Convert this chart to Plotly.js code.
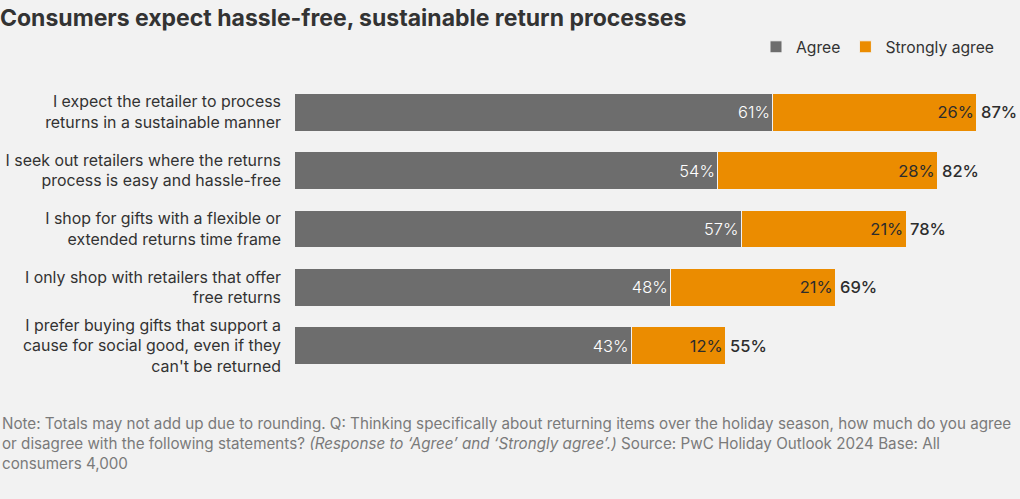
<!DOCTYPE html>
<html>
<head>
<meta charset="utf-8">
<script src="https://cdn.plot.ly/plotly-3.0.1.min.js"></script>
<style>html,body{margin:0;padding:0;background:#f2f2f2;}#chart{width:1020px;height:499px;}</style>
</head>
<body>
<div id="chart"></div>
<script>
const categories = [
  "I expect the retailer to process<br>returns in a sustainable manner",
  "I seek out retailers where the returns<br>process is easy and hassle-free",
  "I shop for gifts with a flexible or<br>extended returns time frame",
  "I only shop with retailers that offer<br>free returns",
  "I prefer buying gifts that support a<br>cause for social good, even if they<br>can't be returned"
];
const agree = [61, 54, 57, 48, 43];
const stronglyAgree = [26, 28, 21, 21, 12];
const totals = [87, 82, 78, 69, 55];

const font = "Inter, 'Liberation Sans', Arial, sans-serif";

const traces = [
  {
    type: 'bar', orientation: 'h', name: 'Agree',
    y: categories, x: agree,
    marker: {color: '#6d6d6d', line: {color: '#f2f2f2', width: 1}},
    text: agree.map(v => v + '%'), textposition: 'inside', insidetextanchor: 'end',
    textfont: {color: '#ffffff', size: 16.5, family: font, weight: 300},
    hoverinfo: 'none'
  },
  {
    type: 'bar', orientation: 'h', name: 'Strongly agree',
    y: categories, x: stronglyAgree,
    marker: {color: '#eb8c00', line: {color: '#f2f2f2', width: 1}},
    text: stronglyAgree.map(v => v + '%'), textposition: 'inside', insidetextanchor: 'end',
    textfont: {color: '#2d2d2d', size: 16.5, family: font, weight: 400},
    hoverinfo: 'none'
  }
];

const annotations = totals.map((t, i) => ({
  x: t, y: categories[i], xref: 'x', yref: 'y',
  text: t + '%', showarrow: false, xanchor: 'left', xshift: 2,
  font: {size: 16.5, color: '#2d2d2d', family: font, weight: 500}
}));

annotations.push({
  xref: 'paper', yref: 'paper', x: -294/706, y: -0.125, xanchor: 'left', yanchor: 'top',
  align: 'left', showarrow: false,
  text: "Note: Totals may not add up due to rounding. Q: Thinking specifically about returning items over the holiday season, how much do you agree<br>or disagree with the following statements? <i>(Response to \u2018Agree\u2019 and \u2018Strongly agree\u2019.)</i> Source: PwC Holiday Outlook 2024 Base: All<br>consumers 4,000",
  font: {size: 15.2, color: '#7a7a7a', family: font}
});

const layout = {
  width: 1020, height: 499,
  paper_bgcolor: '#f2f2f2', plot_bgcolor: '#f2f2f2',
  margin: {l: 294, r: 20, t: 83, b: 123.5},
  barmode: 'stack', bargap: 0.35,
  title: {text: 'Consumers expect hassle-free, sustainable return processes',
    x: 0, xref: 'container', xanchor: 'left', y: 0.965, yref: 'container', yanchor: 'middle',
    font: {size: 23, color: '#333333', family: font, weight: 700}},
  xaxis: {range: [0, 706/7.85], visible: false, fixedrange: true},
  yaxis: {autorange: 'reversed', showgrid: false, zeroline: false, showline: false,
    ticks: '', ticklabelstandoff: 12,
    tickfont: {size: 15.9, color: '#333333', family: font}},
  legend: {orientation: 'h', x: 1, xanchor: 'right', y: 1.123, yanchor: 'middle',
    font: {size: 15.7, color: '#333333', family: font}, traceorder: 'normal',
    itemwidth: 30, bgcolor: 'rgba(0,0,0,0)'},
  annotations: annotations,
  showlegend: true
};

Plotly.newPlot('chart', traces, layout, {displayModeBar: false, staticPlot: true});
</script>
</body>
</html>
